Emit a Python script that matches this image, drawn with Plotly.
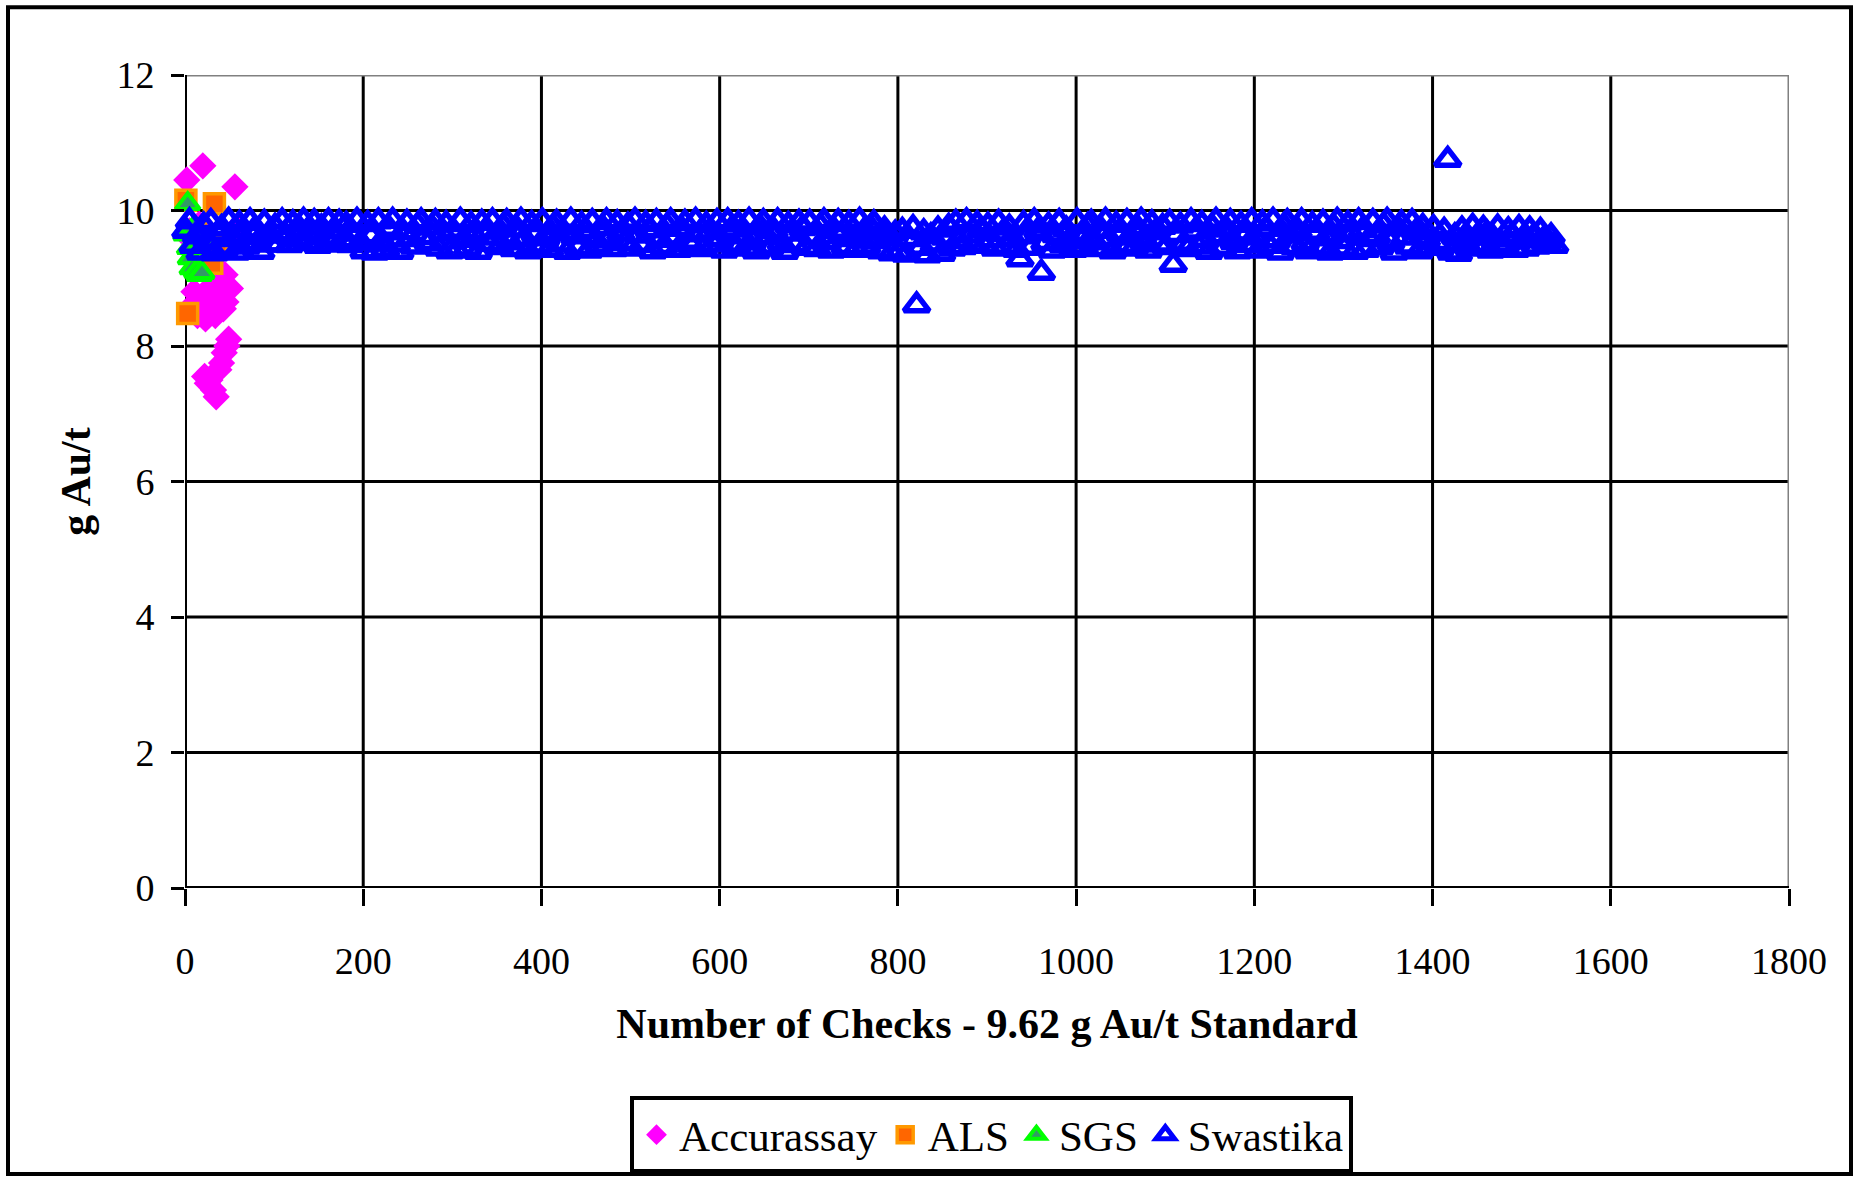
import numpy as np
import plotly.graph_objects as go

# ---------------- data ----------------
acc_x = [2, 5, 8, 10, 12, 14, 16, 18, 20, 22, 23, 25, 26, 28, 29, 31, 32, 34, 35,
         37, 38, 40, 41, 43, 44, 45, 46, 47, 49, 51, 53, 56, 58]
acc_y = [10.45, 9.70, 9.55, 8.80, 8.65, 8.45, 9.80, 8.55, 10.66, 7.55, 8.40, 7.45,
         8.75, 7.50, 8.60, 8.90, 7.35, 8.45, 7.25, 8.70, 7.65, 9.10, 7.75, 8.55,
         7.90, 9.05, 8.65, 8.00, 8.10, 8.85, 9.60, 10.35, 9.75]

als_x = [1, 3, 12, 22, 30, 33, 36]
als_y = [10.15, 8.48, 9.70, 9.60, 9.22, 10.10, 9.45]

sgs_x = [1, 3, 5, 6, 8, 10, 13, 16, 19, 22]
sgs_y = [9.65, 10.10, 9.45, 9.30, 9.15, 9.75, 9.10, 9.05, 9.08, 9.55]

# Swastika: one reading every 4th check, checks 1 .. 1537
swa_y = [
    # 1-97
    9.70, 9.84, 9.48, 9.62, 9.38, 9.78, 9.55, 9.83, 9.37, 9.66, 9.74, 9.45, 9.85,
    9.58, 9.38, 9.80, 9.62, 9.47, 9.84, 9.70, 9.52, 9.39, 9.82, 9.64, 9.50,
    # 101-197
    9.76, 9.50, 9.84, 9.63, 9.49, 9.81, 9.58, 9.72, 9.85, 9.52, 9.67, 9.83, 9.48,
    9.75, 9.60, 9.84, 9.50, 9.70, 9.82, 9.56, 9.79, 9.49, 9.66, 9.85, 9.53,
    # 201-297
    9.40, 9.80, 9.62, 9.38, 9.84, 9.55, 9.42, 9.73, 9.85, 9.50, 9.39, 9.68, 9.82,
    9.58, 9.47, 9.78, 9.84, 9.61, 9.52, 9.75, 9.83, 9.44, 9.66, 9.80, 9.40,
    # 301-397
    9.70, 9.41, 9.85, 9.57, 9.44, 9.79, 9.63, 9.39, 9.82, 9.69, 9.51, 9.84, 9.60,
    9.46, 9.77, 9.83, 9.53, 9.43, 9.72, 9.85, 9.58, 9.40, 9.80, 9.65, 9.48,
    # 401-497
    9.84, 9.59, 9.42, 9.76, 9.82, 9.50, 9.67, 9.39, 9.85, 9.62, 9.45, 9.79, 9.70,
    9.41, 9.83, 9.56, 9.48, 9.74, 9.84, 9.60, 9.43, 9.81, 9.66, 9.52, 9.78,
    # 501-597
    9.44, 9.85, 9.63, 9.49, 9.80, 9.71, 9.40, 9.83, 9.57, 9.46, 9.77, 9.84, 9.60,
    9.42, 9.73, 9.82, 9.54, 9.47, 9.85, 9.65, 9.43, 9.79, 9.69, 9.50, 9.83,
    # 601-697
    9.58, 9.41, 9.84, 9.72, 9.48, 9.80, 9.62, 9.44, 9.85, 9.55, 9.40, 9.76, 9.83,
    9.61, 9.46, 9.70, 9.84, 9.52, 9.39, 9.79, 9.66, 9.49, 9.82, 9.74, 9.45,
    # 701-797
    9.82, 9.60, 9.43, 9.77, 9.84, 9.53, 9.41, 9.70, 9.83, 9.64, 9.46, 9.80, 9.58,
    9.42, 9.85, 9.68, 9.47, 9.75, 9.81, 9.55, 9.40, 9.72, 9.62, 9.37, 9.66,
    # 801-897
    9.38, 9.70, 9.35, 9.58, 9.74, 8.60, 9.45, 9.68, 9.34, 9.62, 9.50, 9.72, 9.36,
    9.60, 9.76, 9.44, 9.82, 9.55, 9.46, 9.84, 9.63, 9.50, 9.80, 9.71, 9.48,
    # 901-997
    9.78, 9.56, 9.44, 9.82, 9.66, 9.47, 9.75, 9.58, 9.42, 9.28, 9.80, 9.62, 9.45,
    9.84, 9.70, 9.08, 9.52, 9.78, 9.41, 9.64, 9.83, 9.49, 9.72, 9.57, 9.42,
    # 1001-1097
    9.84, 9.61, 9.46, 9.77, 9.82, 9.53, 9.43, 9.70, 9.85, 9.58, 9.40, 9.79, 9.66,
    9.48, 9.83, 9.60, 9.44, 9.74, 9.85, 9.55, 9.41, 9.81, 9.68, 9.50, 9.76,
    # 1101-1197
    9.46, 9.82, 9.20, 9.64, 9.78, 9.51, 9.43, 9.84, 9.69, 9.47, 9.80, 9.57, 9.39,
    9.75, 9.85, 9.62, 9.45, 9.72, 9.83, 9.54, 9.40, 9.79, 9.66, 9.49, 9.84,
    # 1201-1297
    9.60, 9.41, 9.81, 9.73, 9.48, 9.85, 9.56, 9.38, 9.77, 9.83, 9.63, 9.46, 9.70,
    9.84, 9.52, 9.40, 9.79, 9.67, 9.45, 9.82, 9.59, 9.38, 9.76, 9.85, 9.55,
    # 1301-1397
    9.44, 9.80, 9.65, 9.39, 9.84, 9.71, 9.42, 9.58, 9.83, 9.62, 9.46, 9.78, 9.85,
    9.53, 9.38, 9.74, 9.81, 9.60, 9.47, 9.83, 9.68, 9.40, 9.76, 9.57, 9.45,
    # 1401-1497
    9.74, 9.52, 9.45, 9.70, 10.75, 9.38, 9.62, 9.36, 9.72, 9.55, 9.44, 9.76, 9.60,
    9.48, 9.73, 9.66, 9.41, 9.58, 9.75, 9.50, 9.46, 9.71, 9.63, 9.42, 9.74,
    # 1501-1537
    9.56, 9.44, 9.72, 9.61, 9.47, 9.70, 9.58, 9.52, 9.62, 9.48,
]
swa_x = list(range(1, 1 + 4 * len(swa_y), 4))

x_ticks = [0, 200, 400, 600, 800, 1000, 1200, 1400, 1600, 1800]
y_ticks = [0, 2, 4, 6, 8, 10, 12]

# ---------------- layout geometry (pixels) ----------------
W, H = 1860, 1185
PL, PR, PT, PB = 185, 1789, 75, 891   # plot area edges
FONT = "Liberation Serif, Times New Roman, serif"
X_MIN, X_MAX = x_ticks[0], x_ticks[-1]
Y_MIN, Y_MAX = y_ticks[0], y_ticks[-1]


def px_x(p):
    return (p - PL) / (PR - PL)


def px_y(p):
    return (PB - p) / (PB - PT)


fig = go.Figure()
fig.add_trace(go.Scatter(
    x=acc_x, y=acc_y, mode="markers", name="Accurassay", cliponaxis=False,
    marker=dict(symbol="diamond", size=21, color="#FF00FF", line=dict(width=0)),
))
fig.add_trace(go.Scatter(
    x=als_x, y=als_y, mode="markers", name="ALS", cliponaxis=False,
    marker=dict(symbol="square", size=20, color="#FF6600",
                line=dict(color="#FF9900", width=3.5)),
))
fig.add_trace(go.Scatter(
    x=sgs_x, y=sgs_y, mode="markers", name="SGS", cliponaxis=False,
    marker=dict(symbol="triangle-up", size=21, color="#339966",
                line=dict(color="#00FF00", width=4)),
))
fig.add_trace(go.Scatter(
    x=swa_x, y=swa_y, mode="markers", name="Swastika", cliponaxis=False,
    marker=dict(symbol="triangle-up-open", size=22, color="#0000FF",
                line=dict(color="#0000FF", width=5.5)),
))

shapes = [
    # outer chart border
    dict(type="rect", xref="paper", yref="paper",
         x0=px_x(8), x1=px_x(1851), y0=px_y(1178), y1=px_y(7),
         line=dict(color="black", width=4), fillcolor="rgba(0,0,0,0)", layer="below"),
]
# black gridlines (under the data)
for v in x_ticks[1:-1]:
    shapes.append(dict(type="line", xref="x", yref="y", x0=v, x1=v, y0=Y_MIN, y1=Y_MAX,
                       line=dict(color="black", width=3), layer="below"))
for v in y_ticks[1:-1]:
    shapes.append(dict(type="line", xref="x", yref="y", x0=X_MIN, x1=X_MAX, y0=v, y1=v,
                       line=dict(color="black", width=3), layer="below"))
# grey plot-area border (top, right)
shapes.append(dict(type="line", xref="x", yref="y", x0=X_MIN, x1=X_MAX, y0=Y_MAX, y1=Y_MAX,
                   line=dict(color="#808080", width=3), layer="below"))
shapes.append(dict(type="line", xref="x", yref="y", x0=X_MAX, x1=X_MAX, y0=Y_MIN, y1=Y_MAX,
                   line=dict(color="#808080", width=3), layer="below"))
# black axes (left, bottom)
shapes.append(dict(type="line", xref="x", yref="y", x0=X_MIN, x1=X_MIN, y0=Y_MIN, y1=Y_MAX,
                   line=dict(color="black", width=4), layer="below"))
shapes.append(dict(type="line", xref="x", yref="y", x0=X_MIN, x1=X_MAX, y0=Y_MIN, y1=Y_MIN,
                   line=dict(color="black", width=4), layer="below"))

fig.update_layout(
    width=W, height=H,
    margin=dict(l=PL, r=W - PR, t=PT, b=H - PB, pad=0),
    paper_bgcolor="white", plot_bgcolor="white",
    font=dict(family=FONT, color="black", size=38),
    showlegend=True,
    legend=dict(
        orientation="h", x=px_x(630), y=px_y(1100), xanchor="left", yanchor="top",
        bgcolor="white", bordercolor="black", borderwidth=4,
        font=dict(family=FONT, size=43, color="black"),
        itemsizing="trace", traceorder="normal", itemwidth=35,
    ),
    shapes=shapes,
)

fig.update_xaxes(
    range=[X_MIN, X_MAX], tickvals=x_ticks, ticktext=[str(v) for v in x_ticks],
    showgrid=False, zeroline=False, showline=False,
    ticks="outside", ticklen=17, tickwidth=3, tickcolor="black",
    ticklabelstandoff=22,
    tickfont=dict(family=FONT, size=38, color="black"),
    title=dict(text="<b>Number of Checks - 9.62 g Au/t Standard</b>",
               font=dict(family=FONT, size=42, color="black"), standoff=28),
)
fig.update_yaxes(
    range=[Y_MIN, Y_MAX], tickvals=y_ticks, ticktext=[str(v) for v in y_ticks],
    showgrid=False, zeroline=False, showline=False,
    ticks="outside", ticklen=13, tickwidth=3, tickcolor="black",
    ticklabelstandoff=9,
    tickfont=dict(family=FONT, size=38, color="black"),
    title=dict(text="<b>g Au/t</b>",
               font=dict(family=FONT, size=42, color="black"), standoff=12),
)

fig.write_html("out.html")
